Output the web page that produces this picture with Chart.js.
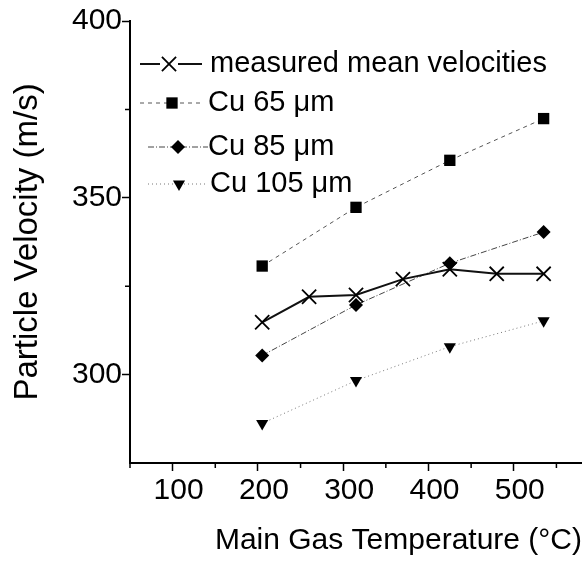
<!DOCTYPE html>
<html><head><meta charset="utf-8">
<script src="https://cdn.jsdelivr.net/npm/chart.js@4/dist/chart.umd.min.js"></script>
<style>html,body{margin:0;padding:0;background:#fff;overflow:hidden}canvas{display:block}</style>
</head><body><canvas id="c" width="582" height="563"></canvas>
<script>
const measuredTemps = [205, 260, 315, 370, 425, 480, 535];
const measuredVel = [314.8, 322.0, 322.5, 327.0, 329.8, 328.5, 328.5];
const cuTemps = [205, 315, 425, 535];
const cu65Vel = [330.7, 347.3, 360.6, 372.4];
const cu85Vel = [305.4, 319.7, 331.5, 340.3];
const cu105Vel = [286.2, 298.3, 307.9, 315.2];
const seriesNames = ['measured mean velocities', 'Cu 65 μm', 'Cu 85 μm', 'Cu 105 μm'];
const xMajorTicks = [100, 200, 300, 400, 500];
const xMinorTicks = [50, 150, 250, 350, 450, 550];
const yMajorTicks = [300, 350, 400];
const yMinorTicks = [325, 375];
const xTitle = 'Main Gas Temperature (°C)';
const yTitle = 'Particle Velocity (m/s)';

const FONT = "'Liberation Sans', Arial, Helvetica, sans-serif";
Chart.defaults.font.family = FONT;
Chart.defaults.color = '#000';

const pts = (xs, ys) => xs.map((x, i) => ({x: x, y: ys[i]}));

const minorTicksPlugin = {
  id: 'minorTicks',
  afterDraw(chart) {
    const ctx = chart.ctx, xs = chart.scales.x, ys = chart.scales.y;
    ctx.save();
    ctx.strokeStyle = '#000'; ctx.lineWidth = 1.5;
    ctx.beginPath();
    xMinorTicks.forEach(v => { const p = xs.getPixelForValue(v); ctx.moveTo(p, xs.top); ctx.lineTo(p, xs.top + 5); });
    yMinorTicks.forEach(v => { const p = ys.getPixelForValue(v); ctx.moveTo(ys.right, p); ctx.lineTo(ys.right - 5, p); });
    ctx.stroke();
    ctx.restore();
  }
};

const legendPlugin = {
  id: 'insetLegend',
  afterDatasetsDraw(chart, args, opts) {
    const ctx = chart.ctx;
    opts.rows.forEach((r, i) => {
      const ds = chart.data.datasets[i];
      ctx.save();
      ctx.strokeStyle = ds.borderColor; ctx.lineWidth = ds.borderWidth;
      ctx.setLineDash(ds.borderDash || []);
      ctx.beginPath();
      if (r.gap) {
        ctx.moveTo(r.x1, r.y); ctx.lineTo(r.mx - r.gap, r.y);
        ctx.moveTo(r.mx + r.gap, r.y); ctx.lineTo(r.x2, r.y);
      } else {
        ctx.moveTo(r.x1, r.y); ctx.lineTo(r.x2, r.y);
      }
      ctx.stroke();
      ctx.setLineDash([]);
      ctx.fillStyle = ds.pointBackgroundColor; ctx.strokeStyle = ds.pointBorderColor;
      ctx.lineWidth = ds.pointBorderWidth;
      Chart.helpers.drawPoint(ctx, {pointStyle: ds.pointStyle, rotation: ds.pointRotation || 0,
        radius: ds.pointRadius, borderWidth: ds.pointBorderWidth}, r.mx, r.y);
      ctx.fillStyle = '#000'; ctx.font = opts.font; ctx.textBaseline = 'middle'; ctx.textAlign = 'left';
      ctx.fillText(ds.label, r.tx, r.y);
      ctx.restore();
    });
  }
};

new Chart(document.getElementById('c'), {
  type: 'line',
  data: {
    datasets: [
      {label: seriesNames[0], data: pts(measuredTemps, measuredVel), borderColor: '#111', borderWidth: 2,
       pointStyle: 'crossRot', pointRadius: 10, pointBorderWidth: 1.8, pointBorderColor: '#000', pointBackgroundColor: '#000'},
      {label: seriesNames[1], data: pts(cuTemps, cu65Vel), borderColor: '#555', borderWidth: 1, borderDash: [4, 4],
       pointStyle: 'rect', pointRadius: 8, pointBorderWidth: 0, pointBorderColor: '#000', pointBackgroundColor: '#000'},
      {label: seriesNames[2], data: pts(cuTemps, cu85Vel), borderColor: '#444', borderWidth: 1, borderDash: [6, 2, 1, 2],
       pointStyle: 'rectRot', pointRadius: 7, pointBorderWidth: 0, pointBorderColor: '#000', pointBackgroundColor: '#000'},
      {label: seriesNames[3], data: pts(cuTemps, cu105Vel), borderColor: '#777', borderWidth: 1, borderDash: [1, 3],
       pointStyle: 'triangle', pointRotation: 180, pointRadius: 7, pointBorderWidth: 0, pointBorderColor: '#000', pointBackgroundColor: '#000'}
    ]
  },
  options: {
    responsive: false, animation: false, devicePixelRatio: 1,
    layout: {autoPadding: false, padding: {top: 21, right: 0, bottom: 0, left: 0}},
    plugins: {
      legend: {display: false}, tooltip: {enabled: false},
      insetLegend: {
        font: "29px " + FONT,
        rows: [
          {y: 64, x1: 140, x2: 202, mx: 169, tx: 210, gap: 9},
          {y: 103, x1: 140, x2: 200, mx: 172, tx: 208},
          {y: 147, x1: 148, x2: 208, mx: 178, tx: 208},
          {y: 184, x1: 148, x2: 208, mx: 179, tx: 210}
        ]
      }
    },
    scales: {
      x: {
        type: 'linear', min: 50, max: 580,
        afterBuildTicks: s => { s.ticks = xMajorTicks.map(v => ({value: v})); },
        afterFit: s => { s.height = 100; s.paddingLeft = 0; s.paddingRight = 0; },
        ticks: {font: {size: 30}, color: '#000', padding: 2, labelOffset: 6, maxRotation: 0, autoSkip: false},
        grid: {drawOnChartArea: false, tickLength: 8, tickColor: '#000', tickWidth: 1.5},
        border: {color: '#000', width: 2},
        title: {display: true, text: xTitle, font: {size: 30}, color: '#000', align: 'end', padding: {top: 0, bottom: 4}}
      },
      y: {
        type: 'linear', min: 275, max: 400,
        afterBuildTicks: s => { s.ticks = yMajorTicks.map(v => ({value: v})); },
        afterFit: s => { s.width = 130; s.paddingLeft = 0; s.paddingRight = 0; },
        ticks: {font: {size: 30}, color: '#000', padding: 0, autoSkip: false},
        grid: {drawOnChartArea: false, tickLength: 8, tickColor: '#000', tickWidth: 1.5},
        border: {color: '#000', width: 2},
        title: {display: true, text: yTitle, font: {size: 33}, color: '#000', padding: {top: 8, bottom: 0}}
      }
    }
  },
  plugins: [minorTicksPlugin, legendPlugin]
});
</script>
</body></html>
